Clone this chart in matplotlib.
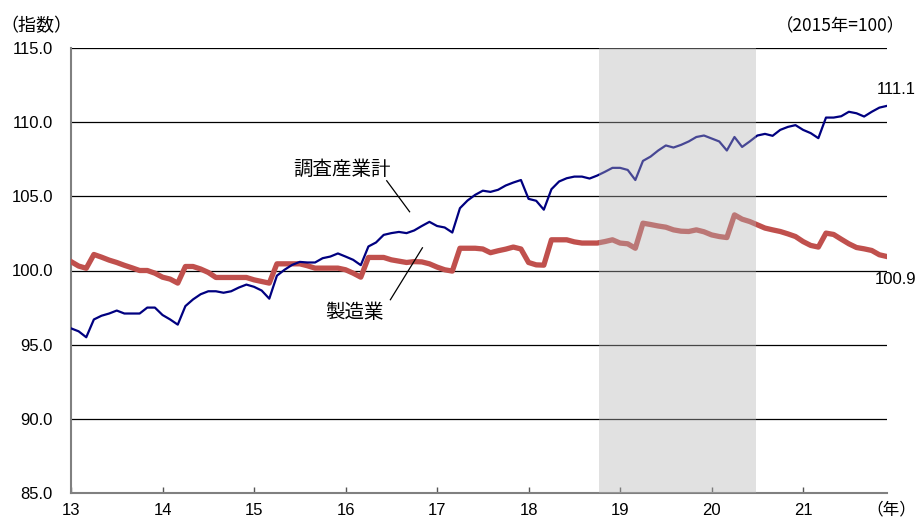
import matplotlib
matplotlib.use("Agg")
import matplotlib.pyplot as plt
import numpy as np

plt.rcParams['font.family'] = ['Liberation Sans', 'Noto Sans CJK JP', 'DejaVu Sans']

# ---- data ----
start_year = 13
total = [96.1, 95.9, 95.5, 96.7, 96.95, 97.1, 97.3, 97.1, 97.1, 97.1, 97.5, 97.5,
         97.0, 96.7, 96.35, 97.6, 98.05, 98.4, 98.6, 98.6, 98.5, 98.6, 98.85, 99.05,
         98.9, 98.65, 98.1, 99.65, 100.05, 100.38, 100.58, 100.54, 100.54, 100.83, 100.94, 101.15,
         100.94, 100.72, 100.36, 101.62, 101.89, 102.4, 102.52, 102.6, 102.52, 102.7, 103.0, 103.28,
         103.0, 102.9, 102.56, 104.2, 104.72, 105.1, 105.38, 105.3, 105.44, 105.73, 105.93, 106.1,
         104.83, 104.7, 104.1, 105.48, 106.0, 106.22, 106.33, 106.33, 106.2, 106.4, 106.65, 106.92,
         106.92, 106.78, 106.1, 107.39, 107.68, 108.09, 108.43, 108.29, 108.47, 108.7, 109.0, 109.1,
         108.9, 108.7, 108.09, 109.0, 108.33, 108.7, 109.1, 109.21, 109.08, 109.48, 109.68, 109.8,
         109.48, 109.26, 108.92, 110.31, 110.31, 110.4, 110.7, 110.6, 110.38, 110.7, 110.98, 111.1]
manuf = [100.6, 100.3, 100.15, 101.08, 100.9, 100.7, 100.54, 100.35, 100.18, 100.0, 100.0, 99.82,
         99.55, 99.42, 99.15, 100.27, 100.27, 100.1, 99.87, 99.53, 99.53, 99.53, 99.53, 99.53,
         99.37, 99.26, 99.15, 100.45, 100.45, 100.45, 100.45, 100.32, 100.16, 100.16, 100.16, 100.16,
         100.05, 99.82, 99.55, 100.88, 100.88, 100.88, 100.72, 100.63, 100.54, 100.6, 100.58, 100.45,
         100.23, 100.05, 99.96, 101.5, 101.5, 101.5, 101.45, 101.2, 101.33, 101.44, 101.58, 101.45,
         100.54, 100.38, 100.36, 102.07, 102.07, 102.07, 101.93, 101.85, 101.85, 101.85, 101.95, 102.07,
         101.85, 101.8, 101.5, 103.19, 103.1, 103.0, 102.92, 102.74, 102.65, 102.63, 102.74, 102.61,
         102.4, 102.29, 102.22, 103.75, 103.46, 103.3, 103.08, 102.86, 102.74, 102.63, 102.47, 102.29,
         101.95, 101.69, 101.58, 102.52, 102.43, 102.11, 101.8, 101.55, 101.46, 101.35, 101.06, 100.94]
year_ticks = [13, 14, 15, 16, 17, 18, 19, 20, 21]
y_ticks = [85, 90, 95, 100, 105, 110, 115]
recession = (18.77, 20.49)
label_total = "調査産業計"
label_manuf = "製造業"

x = start_year + np.arange(len(total)) / 12.0

fig = plt.figure(figsize=(9.17, 5.18), dpi=100)
ax = fig.add_axes([71/917, 1-493/518, (887-71)/917, (493-48)/518])

ax.set_xlim(start_year, x[-1])
ax.set_ylim(85, 115)

for v in y_ticks[1:]:
    ax.axhline(v, color='black', lw=0.9, zorder=1)

ax.plot(x, manuf, color='#C0504D', lw=3.8, zorder=3, solid_joinstyle='round')
ax.plot(x, total, color='#000080', lw=1.6, zorder=4, solid_joinstyle='round')

ax.axvspan(recession[0], recession[1], color='#b4b4b4', alpha=0.4, lw=0, zorder=5)

ax.set_xticks(year_ticks)
ax.set_xticklabels([str(t) for t in year_ticks])
ax.set_yticks(y_ticks)
ax.set_yticklabels([f"{v:.1f}" for v in y_ticks])
ax.tick_params(axis='x', direction='in', length=4, width=1, color='#555555', pad=7, labelsize=12)
ax.tick_params(axis='y', length=0, pad=13, labelsize=12)

for s in ['top', 'right']:
    ax.spines[s].set_visible(False)
for s in ['left', 'bottom']:
    ax.spines[s].set_color('#808080')
    ax.spines[s].set_linewidth(1.5)
    ax.spines[s].set_zorder(2)

cjk = ['Noto Sans CJK JP', 'DejaVu Sans']

# annotations
ax.text(15.96, 106.8, label_total, fontsize=14, family=cjk, ha='center', va='center', zorder=6)
ax.plot([16.45, 16.70], [106.05, 103.96], color='black', lw=0.9, zorder=6)
ax.text(16.1, 97.15, label_manuf, fontsize=14, family=cjk, ha='center', va='center', zorder=6)
ax.plot([16.49, 16.84], [98.03, 101.53], color='black', lw=0.9, zorder=6)

ax.text(21.80, 112.18, f"{total[-1]:.1f}", fontsize=12, ha='left', va='center', clip_on=False, zorder=6)
ax.text(21.78, 99.37, f"{manuf[-1]:.1f}", fontsize=12, ha='left', va='center', clip_on=False, zorder=6)

fig.text(0.5/917, 1-26/518, "（指数）", fontsize=13, family=cjk, ha='left', va='center')
fig.text(905/917, 1-26/518, "（2015年=100）", fontsize=12.5, family=cjk, ha='right', va='center')
fig.text(916/917, 1-510/518, "（年）", fontsize=12, family=cjk, ha='right', va='center')

fig.savefig("out.png", dpi=100)
